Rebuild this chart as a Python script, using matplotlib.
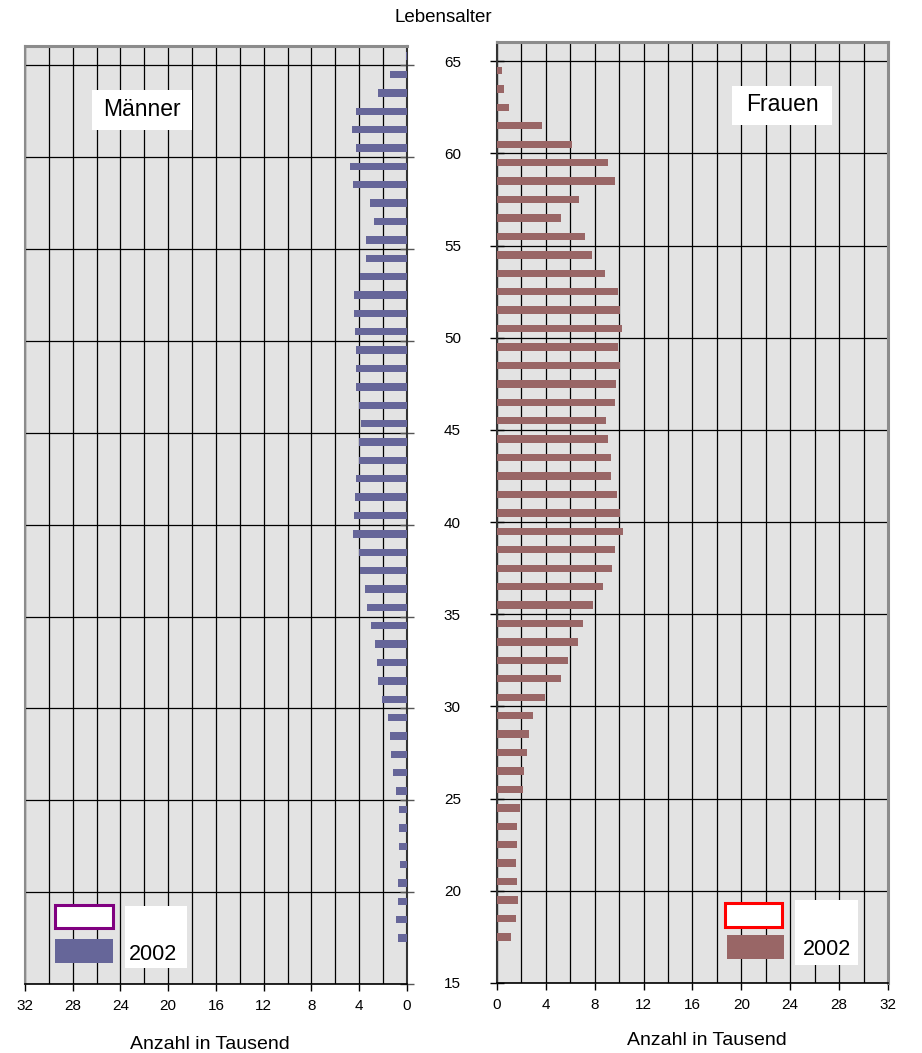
import numpy as np
import matplotlib
matplotlib.use("Agg")
from matplotlib import pyplot as plt
from matplotlib.patches import Rectangle

plt.rcParams['font.family'] = ['Liberation Sans', 'DejaVu Sans']

# Lebensalter 17..65
ages = np.arange(17, 66)

# Anzahl in Tausend, 2002
maenner = [0.79, 0.96, 0.79, 0.79, 0.62, 0.70, 0.70, 0.70, 0.96, 1.13,
           1.30, 1.46, 1.55, 2.06, 2.39, 2.48, 2.65, 2.99, 3.32, 3.49,
           3.92, 4.06, 4.51, 4.42, 4.34, 4.25, 4.03, 4.03, 3.83, 4.03,
           4.25, 4.25, 4.25, 4.34, 4.42, 4.42, 3.92, 3.41, 3.41, 2.73,
           3.07, 4.51, 4.76, 4.25, 4.59, 4.25, 2.39, 1.38, 0.06]
frauen = [1.12, 1.53, 1.69, 1.61, 1.53, 1.61, 1.61, 1.86, 2.10, 2.19,
          2.43, 2.60, 2.92, 3.91, 5.22, 5.79, 6.61, 7.02, 7.84, 8.66,
          9.40, 9.64, 10.30, 10.05, 9.81, 9.32, 9.32, 9.07, 8.91, 9.64,
          9.73, 10.05, 9.89, 10.22, 10.05, 9.89, 8.83, 7.76, 7.19, 5.22,
          6.69, 9.64, 9.07, 6.12, 3.66, 0.96, 0.55, 0.38, 0.0]

x_ticks = list(range(0, 33, 4))
y_ticks = list(range(15, 66, 5))

fig = plt.figure(figsize=(9.22, 10.53), dpi=100)
ax_m = fig.add_axes([0.0271, 0.0655, 0.4143, 0.8908])
ax_f = fig.add_axes([0.5390, 0.0665, 0.4241, 0.8937])

bg = '#e3e3e3'
for ax in (ax_m, ax_f):
    ax.set_facecolor(bg)
    ax.set_ylim(15, 66.05)
    ax.set_xticks(x_ticks)
    ax.set_xticks(range(0, 33, 2), minor=True)
    ax.set_yticks(y_ticks)
    ax.grid(True, which='both', axis='x', color='black', lw=0.9)
    ax.grid(True, which='major', axis='y', color='black', lw=0.9)
    ax.set_axisbelow(True)
    ax.tick_params(axis='x', which='major', direction='out', length=5,
                   width=1, labelsize=11, pad=6)
    ax.tick_params(axis='x', which='minor', length=0)
    ax.spines['bottom'].set_color('black')
    ax.spines['bottom'].set_linewidth(1.2)
    ax.spines['top'].set_color('#8c8c8c')
    ax.spines['top'].set_linewidth(2.2)

# Männer
ax_m.barh(ages + 0.5, maenner, height=0.4, color='#666699', zorder=3)
ax_m.set_xlim(32, 0)
ax_m.yaxis.tick_right()
ax_m.tick_params(axis='y', direction='inout', length=10, width=1,
                 labelright=False, colors='#555555')
ax_m.spines['left'].set_color('#8c8c8c')
ax_m.spines['left'].set_linewidth(1.5)
ax_m.spines['right'].set_color('#333333')
ax_m.spines['right'].set_linewidth(1.5)

# Frauen
ax_f.barh(ages + 0.5, frauen, height=0.4, color='#996666', zorder=3)
ax_f.set_xlim(0, 32)
ax_f.tick_params(axis='y', direction='inout', length=10, width=1,
                 labelsize=11, pad=21)
ax_f.spines['left'].set_color('#333333')
ax_f.spines['left'].set_linewidth(1.5)
ax_f.spines['right'].set_color('#8c8c8c')
ax_f.spines['right'].set_linewidth(2.2)

# Beschriftungen in weißen Kästen
ax_m.add_patch(Rectangle((0.175, 0.910), 0.262, 0.0426, transform=ax_m.transAxes,
                         facecolor='white', edgecolor='none', zorder=4))
ax_m.text(0.305, 0.932, 'Männer', transform=ax_m.transAxes, fontsize=16.5,
          ha='center', va='center', zorder=5)
ax_f.add_patch(Rectangle((0.601, 0.912), 0.256, 0.0414, transform=ax_f.transAxes,
                         facecolor='white', edgecolor='none', zorder=4))
ax_f.text(0.729, 0.933, 'Frauen', transform=ax_f.transAxes, fontsize=16.5,
          ha='center', va='center', zorder=5)

# Legenden
ax_m.add_patch(Rectangle((0.0785, 0.0597), 0.152, 0.0245, transform=ax_m.transAxes,
                         facecolor='white', edgecolor='#800080', lw=2.2, zorder=4))
ax_m.add_patch(Rectangle((0.0785, 0.0224), 0.152, 0.0256, transform=ax_m.transAxes,
                         facecolor='#666699', edgecolor='none', zorder=4))
ax_m.add_patch(Rectangle((0.262, 0.0171), 0.162, 0.066, transform=ax_m.transAxes,
                         facecolor='white', edgecolor='none', zorder=4))
ax_m.text(0.335, 0.032, '2002', transform=ax_m.transAxes, fontsize=15.5,
          ha='center', va='center', zorder=5)

ax_f.add_patch(Rectangle((0.583, 0.0595), 0.146, 0.0255, transform=ax_f.transAxes,
                         facecolor='white', edgecolor='#ff0000', lw=2.2, zorder=4))
ax_f.add_patch(Rectangle((0.588, 0.0255), 0.146, 0.0255, transform=ax_f.transAxes,
                         facecolor='#996666', edgecolor='none', zorder=4))
ax_f.add_patch(Rectangle((0.762, 0.019), 0.161, 0.069, transform=ax_f.transAxes,
                         facecolor='white', edgecolor='none', zorder=4))
ax_f.text(0.844, 0.036, '2002', transform=ax_f.transAxes, fontsize=15.5,
          ha='center', va='center', zorder=5)

fig.text(0.4805, 0.983, 'Lebensalter', fontsize=13.5, ha='center', va='center')
fig.text(0.228, 0.0085, 'Anzahl in Tausend', fontsize=14, ha='center', va='center')
fig.text(0.767, 0.012, 'Anzahl in Tausend', fontsize=14, ha='center', va='center')

fig.savefig('out.png', dpi=100)
